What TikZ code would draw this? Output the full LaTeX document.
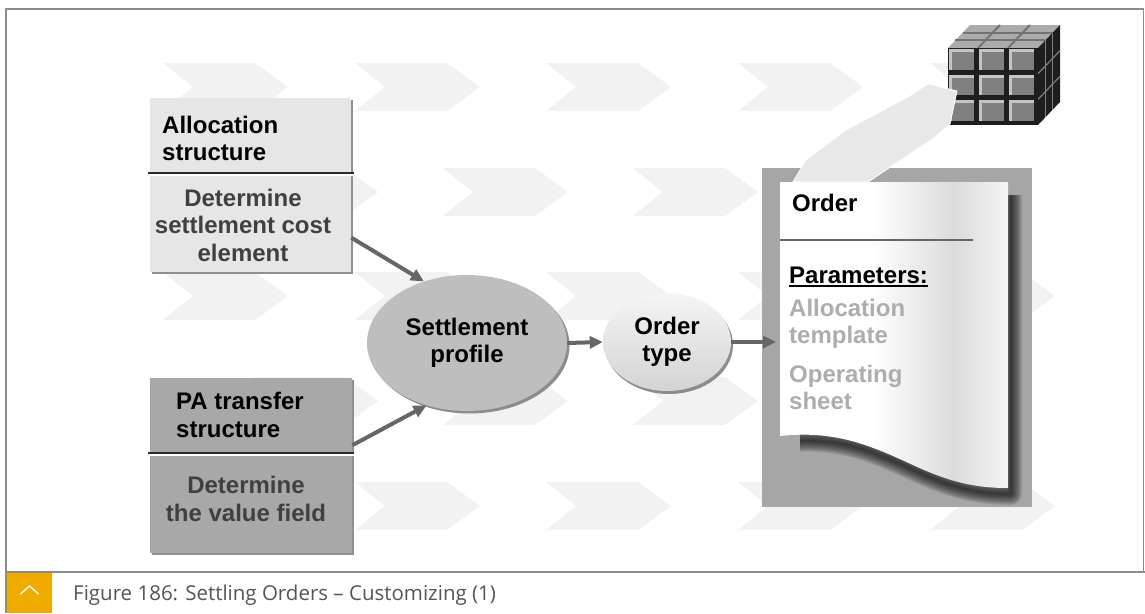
\documentclass[tikz,border=0pt]{standalone}
\usepackage{fontspec}
\setmainfont{Liberation Sans}
\newfontfamily\capfont{Open Sans}
\usetikzlibrary{shapes.geometric,arrows.meta}

\definecolor{chevgray}{HTML}{F2F2F2}
\definecolor{alloclight}{HTML}{E6E6E6}
\definecolor{pagray}{HTML}{A8A8A8}
\definecolor{bodygray}{HTML}{404040}
\definecolor{boxshadow}{HTML}{909090}
\definecolor{sepdark}{HTML}{2B2B2B}
\definecolor{settgray}{HTML}{BEBEBE}
\definecolor{ellshadow}{HTML}{8C8C8C}
\definecolor{conngray}{HTML}{666666}
\definecolor{docgray}{HTML}{A6A6A6}
\definecolor{paramgray}{HTML}{ADADAD}
\definecolor{lightarrow}{HTML}{E8E8E8}
\definecolor{sapyellow}{HTML}{F0AB00}
\definecolor{capgray}{HTML}{555555}
\definecolor{framegray}{HTML}{8C8C8C}
\definecolor{cubedark}{HTML}{1E1E1E}
\definecolor{cubelight}{HTML}{C4C4C4}
\definecolor{cubeface}{HTML}{808080}
\definecolor{cubetop}{HTML}{ABABAB}

% sheet of paper: soft shadow at the left, a faint fold band, darker right edge
\pgfdeclarehorizontalshading{papershade}{100bp}{color(0bp)=(black!30); color(5bp)=(white); color(45bp)=(white); color(63bp)=(black!14); color(80bp)=(white); color(92bp)=(white); color(100bp)=(black!20)}

% one background chevron, top-left corner at (#1,#2)
\newcommand\chevronat[2]{\fill[chevgray] (#1,#2) -- ++(92,0) -- ++(33,24) -- ++(-33,24) -- ++(-92,0) -- ++(30,-24) -- cycle;}

% outline of the sheet with its curled lower edge
\newcommand\sheetpath{(780,182) -- (1008,182) -- (1008,488)
  .. controls (975,488) and (950,482) .. (915,466)
  .. controls (870,445) and (835,430) .. (780,436) -- cycle}

\begin{document}
\begin{tikzpicture}[x=1pt,y=-1pt,
  secbox/.style={rectangle, inner sep=0pt, anchor=north west},
  conn/.style={draw=conngray, line width=4pt, -{Triangle[length=13pt,width=12pt]}},
  boldtxt/.style={font=\fontsize{24}{27.5}\selectfont\bfseries, inner sep=0pt},
  sepline/.style={draw=sepdark, line width=2.5pt},
]
\useasboundingbox (0,0) rectangle (1145,613);
\fill[white] (0,0) rectangle (1145,613);

% background chevrons
\foreach \x in {163,355,546,738,930} { \foreach \y in {63,272,482} { \chevronat{\x}{\y} } }
\foreach \x in {253,443,633,823} { \foreach \y in {168,377} { \chevronat{\x}{\y} } }

% frame
\draw[framegray, line width=1.5pt] (6,613) -- (6,9) -- (1143.5,9) -- (1143.5,572);
\draw[framegray, line width=1.5pt] (6,572) -- (1145,572);

% allocation structure box
\fill[boxshadow] (151.5,99.5) rectangle (352.5,273.5);
\node[secbox, fill=alloclight, minimum width=201pt, minimum height=74pt] (alloctop) at (150,98) {};
\fill[white] (150,172) rectangle (353,176);
\draw[sepline] (148,173.2) -- (354,173.2);
\node[secbox, fill=alloclight, minimum width=201pt, minimum height=96pt] (allocbot) at (150,176) {};
\node[boldtxt, anchor=west, align=left] (allochead) at (162,138.5) {Allocation\\structure};
\node[boldtxt, text=bodygray, align=center] (allocbody) at (243,225) {Determine\\settlement cost\\element};

% PA transfer structure box
\fill[boxshadow] (151.5,379.5) rectangle (353.5,554.5);
\node[secbox, fill=pagray, minimum width=202pt, minimum height=74pt] (patop) at (150,378) {};
\fill[white] (150,452) rectangle (354,456);
\draw[sepline] (148,453.2) -- (354,453.2);
\node[secbox, fill=pagray, minimum width=202pt, minimum height=97pt] (pabot) at (150,456) {};
\node[boldtxt, anchor=west, align=left] (pahead) at (176,415) {PA transfer\\structure};
\node[boldtxt, text=bodygray, align=center] (pabody) at (246,499) {Determine\\the value field};

% settlement profile
\fill[ellshadow] (469.5,345.5) ellipse [x radius=100pt, y radius=68pt];
\node[ellipse, fill=settgray, minimum width=200pt, minimum height=136pt, boldtxt, align=center] (sett) at (467,343) {Settlement\\profile};

% order type
\fill[ellshadow] (669,345) ellipse [x radius=64pt, y radius=49pt];
\node[ellipse, top color=white!96!black, bottom color=black!17, minimum width=128pt, minimum height=98pt, boldtxt, align=center] (otype) at (667,342) {Order\\type};

% order document: grey card, soft shadow, curled sheet
\node[secbox, fill=docgray, minimum width=270pt, minimum height=339pt] (docframe) at (762,168) {};
\begin{scope}
  \clip (800,195) rectangle (1032,507);
  \foreach \w in {22,20,...,2} {
    \draw[black, opacity=0.085, line width=\w pt, line join=round, shift={(3,6)}] \sheetpath;
  }
\end{scope}
\shade[shading=papershade] \sheetpath;

\node[boldtxt, anchor=west] (ordertitle) at (792,203) {Order};
\draw[draw=black!60, line width=1.5pt] (780,240) -- (973,240);
\node[boldtxt, anchor=west] (params) at (789,275) {Parameters:};
\draw[line width=2pt] ([yshift=-2.5pt]params.base west) -- ([yshift=-2.5pt]params.base east);
\node[boldtxt, text=paramgray, anchor=west, align=left] (ptempl) at (789,324) {Allocation\\template};
\node[boldtxt, text=paramgray, anchor=west, align=left] (psheet) at (789,387.5) {Operating\\sheet};

% connectors
\coordinate (docin) at (776,342);
\draw[conn] ([yshift=-13.5pt]allocbot.east) -- (sett.125);
\draw[conn] ([yshift=-30pt]patop.east) -- (sett.237);
\draw[conn] (sett.east) -- (otype.west);
\draw[conn] (otype.east) -- (docin);

% data cube: top face, right face, front cells
\fill[cubetop] (948,48) -- (1038,48) -- (1060,25) -- (970,25) -- cycle;
\foreach \k in {1,2} {
  \draw[black!55, line width=2pt] (948+22*\k/3,48-23*\k/3) -- (1038+22*\k/3,48-23*\k/3);
  \draw[black!55, line width=2pt] (948+30*\k,48) -- (970+30*\k,25);
}
\fill[cubedark] (1038,48) -- (1060,25) -- (1060,102) -- (1038,125) -- cycle;
\foreach \k in {1,2} {
  \draw[black!50, line width=1.2pt] (1038,48+25.67*\k) -- (1060,25+25.67*\k);
  \draw[black!50, line width=1.2pt] (1038+22*\k/3,48-23*\k/3) -- (1038+22*\k/3,125-23*\k/3);
}
\foreach \i in {0,1,2} { \foreach \j in {0,1,2} {
  \fill[cubedark] (948+30*\i,48+25.67*\j) rectangle ++(30,25.67);
  \fill[cubelight] (949+30*\i,49+25.67*\j) rectangle ++(25,20.5);
  \fill[cubeface] (952+30*\i,52+25.67*\j) rectangle ++(22,17.5);
} }

% light arrow from the order to the cube
\fill[lightarrow, draw=white, line width=0.8pt]
  (793,182) -- (806,160) -- (846,130) -- (908,97) -- (928,84) -- (957,91)
  -- (950,124) -- (934,138) -- (868,182) -- cycle;

% caption bar
\fill[sapyellow] (7,573) rectangle (52,613);
\draw[white, line width=1.4pt] (20.5,594) -- (29.5,586) -- (38.5,594);
\node[anchor=west, inner sep=0pt, font=\capfont\fontsize{20.5}{23}\selectfont, text=capgray] (caption) at (73,595) {Figure 186: Settling Orders – Customizing (1)};
\end{tikzpicture}
\end{document}
